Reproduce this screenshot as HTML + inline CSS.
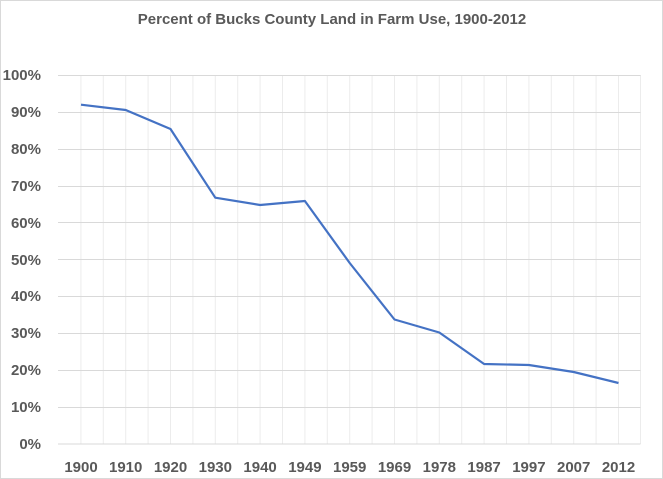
<!DOCTYPE html>
<html><head><style>
html,body{margin:0;padding:0;background:#fff;}
svg{display:block;}
text{font-family:"Liberation Sans",sans-serif;fill:#595959;}
</style></head><body>
<svg width="663" height="479" viewBox="0 0 663 479">
<rect x="0.5" y="0.5" width="662" height="478" fill="#fff" stroke="#d9d9d9"/>
<text x="332" y="24" text-anchor="middle" font-size="15" font-weight="bold">Percent of Bucks County Land in Farm Use, 1900-2012</text>
<g stroke="#ececec" stroke-width="1">
<path d="M80.9 75V444M103.3 75V444M125.7 75V444M148.1 75V444M170.5 75V444M192.9 75V444M215.3 75V444M237.7 75V444M260.1 75V444M282.5 75V444M304.9 75V444M327.3 75V444M349.7 75V444M372.1 75V444M394.5 75V444M416.9 75V444M439.3 75V444M461.7 75V444M484.1 75V444M506.5 75V444M528.9 75V444M551.3 75V444M573.7 75V444M596.1 75V444M618.5 75V444M640.5 75V444"/>
</g>
<g stroke="#d9d9d9" stroke-width="1">
<path d="M58 75.5H640.5M58 112.5H640.5M58 149.5H640.5M58 186.5H640.5M58 222.5H640.5M58 259.5H640.5M58 296.5H640.5M58 333.5H640.5M58 370.5H640.5M58 407.5H640.5M58 444H640.5"/>
</g>
<g font-size="15" font-weight="bold" text-anchor="end">
<text x="41" y="80">100%</text><text x="41" y="117">90%</text><text x="41" y="154">80%</text><text x="41" y="191">70%</text><text x="41" y="228">60%</text><text x="41" y="265">50%</text><text x="41" y="301">40%</text><text x="41" y="338">30%</text><text x="41" y="375">20%</text><text x="41" y="412">10%</text><text x="41" y="449">0%</text>
</g>
<g font-size="15" font-weight="bold" text-anchor="middle">
<text x="81" y="472">1900</text><text x="125.7" y="472">1910</text><text x="170.5" y="472">1920</text><text x="215.3" y="472">1930</text><text x="260.1" y="472">1940</text><text x="304.9" y="472">1949</text><text x="349.7" y="472">1959</text><text x="394.5" y="472">1969</text><text x="439.3" y="472">1978</text><text x="484.1" y="472">1987</text><text x="528.9" y="472">1997</text><text x="573.7" y="472">2007</text><text x="618.5" y="472">2012</text>
</g>
<polyline fill="none" stroke="#4472c4" stroke-width="2.2" stroke-linejoin="round" points="81,104.7 125.7,110 170.5,129 215.3,197.7 260.1,205 304.9,201 349.7,263 394.5,319.5 439.3,332.5 484.1,364 528.9,365 573.7,372 618.5,383"/>
</svg>
</body></html>
